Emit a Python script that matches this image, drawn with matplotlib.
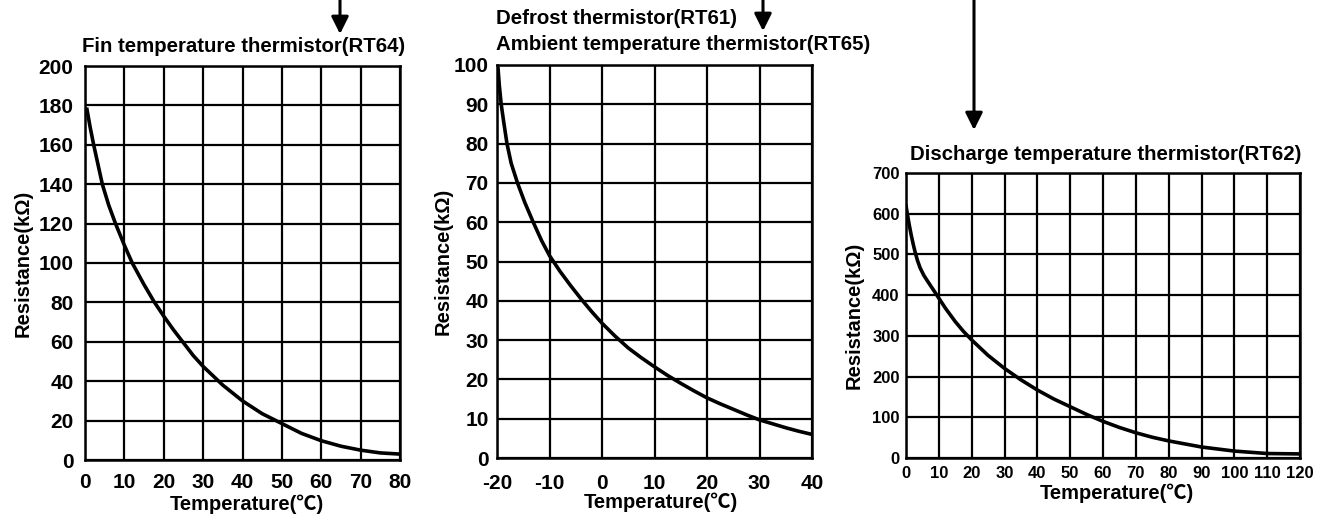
import numpy as np
import matplotlib
matplotlib.use("Agg")
import matplotlib.pyplot as plt

plt.rcParams['font.family'] = ['Liberation Sans', 'Noto Sans CJK SC', 'DejaVu Sans']
plt.rcParams['font.weight'] = 'bold'
plt.rcParams['axes.unicode_minus'] = False

# Fin temperature thermistor (RT64)
t_fin = [0.5, 1.3, 2.2, 3.3, 4.4, 6, 7.75, 10, 12, 15, 17.5, 20, 22.5, 25, 27.5, 30, 35, 40, 45, 50,
         55, 60, 65, 70, 75, 80]
r_fin = [178, 169, 160, 150, 140, 129.5, 120, 109, 100, 89, 80.5, 73, 66, 59.5, 53, 47.5, 38, 30,
         23.5, 18.5, 13.5, 9.8, 7, 5, 3.6, 3]

# Defrost / ambient thermistor (RT61, RT65)
t_amb = [-19.8, -19.55, -19.2, -18.7, -18.1, -17.3, -16.1, -14.7, -13.1, -11.5, -10, -8, -6, -4, -2, 0,
         2.5, 5, 7.5, 10, 12.5, 15, 17.5, 20, 22.5, 25, 27.5, 30, 32.5, 35, 37.5, 40]
r_amb = [99.1, 94.7, 90, 85.3, 80, 75, 70, 65, 60, 55.3, 51.5, 47.5, 43.9, 40.5, 37.3, 34.3,
         31, 28, 25.5, 23.2, 21, 19, 17.1, 15.3, 13.8, 12.4, 11, 9.7, 8.7, 7.7, 6.8, 6]

# Discharge temperature thermistor (RT62)
t_dis = [0, 0.4, 1.0, 1.6, 2.2, 2.8, 3.5, 4.3, 5.4, 6.6, 8, 9.4, 12, 15, 17.5, 20, 25, 30, 35, 40,
         45, 50, 55, 60, 65, 70, 75, 80, 90, 100, 110, 120]
r_dis = [620, 600, 572, 547, 525, 505, 485, 467, 449, 434, 417, 400, 368, 335, 311, 290, 252, 220,
         192, 167, 145, 126, 107, 90, 75, 62, 51, 42, 27, 17, 11, 10]

W, H = 1319, 518
fig = plt.figure(figsize=(W / 100, H / 100), dpi=100)


def px_axes(l, t, r, b):
    return fig.add_axes([l / W, 1 - b / H, (r - l) / W, (b - t) / H])


def style(ax, xlim, ylim, xstep, ystep, fs, xpad, ypad):
    ax.set_xlim(*xlim)
    ax.set_ylim(*ylim)
    ax.set_xticks(np.arange(xlim[0], xlim[1] + 1, xstep))
    ax.set_yticks(np.arange(ylim[0], ylim[1] + 1, ystep))
    ax.grid(True, color='black', linewidth=1.6)
    ax.set_axisbelow(True)
    for s in ax.spines.values():
        s.set_linewidth(1.8)
    ax.tick_params(length=0, labelsize=fs)
    ax.tick_params(axis='x', pad=xpad)
    ax.tick_params(axis='y', pad=ypad)
    for lab in ax.get_xticklabels() + ax.get_yticklabels():
        lab.set_fontweight('bold')


def labels(ax, ylab_x, xlab_x):
    ax.set_ylabel('Resistance(kΩ)', fontsize=14.5, fontweight='bold')
    ax.yaxis.set_label_coords(ylab_x, 0.5)
    ax.set_xlabel('Temperature(℃)', fontsize=14.5, fontweight='bold', va='top')
    ax.xaxis.set_label_coords(xlab_x, -0.088)


ax1 = px_axes(85, 66, 400, 460)
ax1.plot(t_fin, r_fin, color='black', linewidth=2.6)
style(ax1, (0, 80), (0, 200), 10, 20, 15, 9.5, 8.2)
labels(ax1, -0.165, 0.515)

ax2 = px_axes(497, 65, 812, 458)
ax2.plot(t_amb, r_amb, color='black', linewidth=2.6)
style(ax2, (-20, 40), (0, 100), 10, 10, 15, 11.5, 6)
labels(ax2, -0.14, 0.52)

ax3 = px_axes(906, 173, 1300, 458)
ax3.plot(t_dis, r_dis, color='black', linewidth=2.6)
style(ax3, (0, 120), (0, 700), 10, 100, 12, 6, 4.5)
labels(ax3, -0.107, 0.535)

# titles
fig.text(82 / W, 1 - 47 / H, 'Fin temperature thermistor(RT64)', fontsize=14.7,
         fontweight='bold', ha='left', va='center')
fig.text(496 / W, 1 - 18 / H, 'Defrost thermistor(RT61)', fontsize=14.7,
         fontweight='bold', ha='left', va='center')
fig.text(496 / W, 1 - 45 / H, 'Ambient temperature thermistor(RT65)', fontsize=14.7,
         fontweight='bold', ha='left', va='center')
fig.text(1106 / W, 1 - 155 / H, 'Discharge temperature thermistor(RT62)', fontsize=14.7,
         fontweight='bold', ha='center', va='center')

# arrows from the top edge
for x, y_end in [(340, 34), (763, 31), (974, 130)]:
    fig.add_artist(matplotlib.patches.FancyArrowPatch(
        (x / W, 1.01), (x / W, 1 - y_end / H), transform=fig.transFigure,
        arrowstyle='-|>', mutation_scale=26, linewidth=2.2, color='black',
        shrinkA=0, shrinkB=0))

fig.savefig('out.png', dpi=100)
